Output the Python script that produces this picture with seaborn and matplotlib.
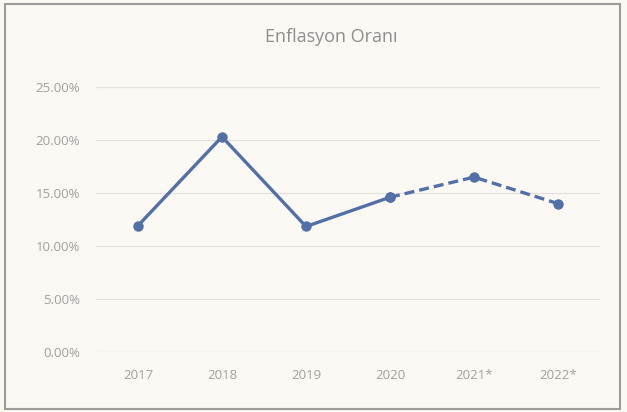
import matplotlib
matplotlib.use("Agg")
import matplotlib.pyplot as plt
import seaborn as sns
import pandas as pd
from matplotlib.ticker import FuncFormatter

years = ["2017", "2018", "2019", "2020", "2021*", "2022*"]
inflation = [11.92, 20.30, 11.84, 14.60, 16.50, 14.00]
actual_count = 4  # first four actual, last ones forecast (dashed)

sns.set_theme(style="white")
plt.rcParams['font.family'] = ['Open Sans', 'DejaVu Sans']

bg = "#fcf8f4"
line_color = "#5270a8"

fig = plt.figure(figsize=(6.27, 4.12), dpi=100, facecolor=bg)
ax = fig.add_axes([96/627, 1-352/412, 504/627, 265/412])
ax.set_facecolor(bg)

df = pd.DataFrame({"x": range(len(years)), "y": inflation})
act = df.iloc[:actual_count]
fc = df.iloc[actual_count-1:]

sns.lineplot(data=act, x="x", y="y", ax=ax, color=line_color, linewidth=2.4,
             marker="o", markersize=7.5, markeredgewidth=0, clip_on=False)
sns.lineplot(data=fc, x="x", y="y", ax=ax, color=line_color, linewidth=2.4,
             linestyle=(0, (3, 1.5)), marker="o", markersize=7.5, markeredgewidth=0, clip_on=False)

ax.set_xlim(-0.5, len(years) - 0.5)
ax.set_ylim(0, 25)
ax.set_yticks([0, 5, 10, 15, 20, 25])
ax.yaxis.set_major_formatter(FuncFormatter(lambda v, p: f"{v:.2f}%"))
ax.set_xticks(range(len(years)))
ax.set_xticklabels(years)
ax.grid(axis="y", color="#e4e0dc", linewidth=0.9)
ax.set_axisbelow(True)
for s in ax.spines.values():
    s.set_visible(False)
ax.tick_params(axis="both", length=0, labelsize=9.5, labelcolor="#a0a0a0")
ax.tick_params(axis="y", pad=11.5)
ax.tick_params(axis="x", pad=12)
ax.set_xlabel("")
ax.set_ylabel("")

fig.text(331/627, 1-37/412, "Enflasyon Oranı", ha="center", va="center",
         fontsize=13, color="#8e8e8e")

border = plt.Rectangle((5/627, 1-409/412), 615/627, 405/412, transform=fig.transFigure,
                       fill=False, edgecolor="#9c9c9c", linewidth=1.5)
fig.patches.append(border)

fig.savefig("out.png", dpi=100, facecolor=bg)
